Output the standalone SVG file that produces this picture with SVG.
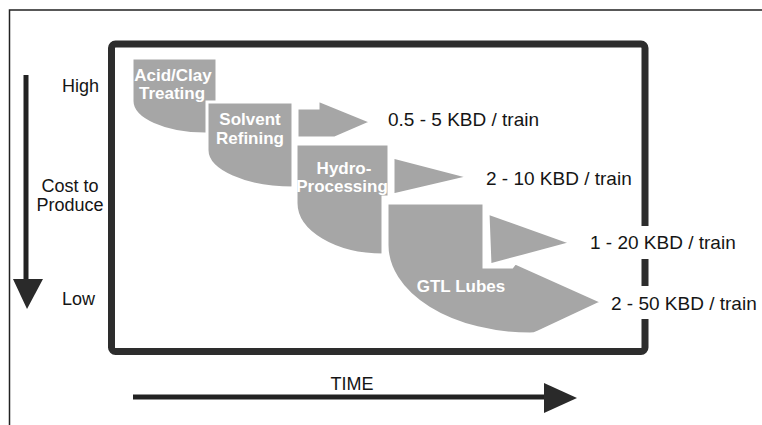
<svg xmlns="http://www.w3.org/2000/svg" width="762" height="425" viewBox="0 0 762 425">
<style>
.lbl{font-family:"Liberation Sans",Arial,sans-serif;font-size:18px;fill:#151515}
.kbd{font-family:"Liberation Sans",Arial,sans-serif;font-size:19px;fill:#151515}
.proc{fill:#a6a6a6;stroke:#ffffff;stroke-width:3;stroke-linejoin:miter}
.ptxt{font-family:"Liberation Sans",Arial,sans-serif;font-size:17px;font-weight:bold;fill:#ffffff;text-anchor:middle}
.axis{stroke:#222222;stroke-width:5;fill:none}
.head{fill:#2a2a2a}
</style>
<rect x="0" y="0" width="762" height="425" fill="#ffffff"/>
<rect id="outer-border" x="9.5" y="10" width="800" height="500" fill="none" stroke="#222222" stroke-width="1.5"/>

<g id="axis-labels">
<text class="lbl" x="62" y="92">High</text>
<text class="lbl" x="70" y="192" text-anchor="middle" font-size="17">Cost to</text>
<text class="lbl" x="70" y="211" text-anchor="middle" font-size="17">Produce</text>
<text class="lbl" x="62" y="305">Low</text>
<text class="lbl" x="352" y="390" text-anchor="middle" font-size="17">TIME</text>
</g>

<rect id="frame" x="111.5" y="44" width="533.5" height="307.5" rx="4" fill="none" stroke="#2d2d2d" stroke-width="7"/>

<g id="acid-clay">
<path class="proc" d="M132,58 H217 V134 H205 A73,33 0 0 1 132,101 Z M297,108 H318 V100 L372,122 L335,138 H297 Z"/>
<text class="ptxt" x="173" y="81">Acid/Clay</text>
<text class="ptxt" x="172" y="99">Treating</text>
</g>

<g id="solvent-refining">
<path class="proc" d="M207,102 H293 V188 A86,38 0 0 1 207,150 Z M393,157 L470,177 L393,195 Z"/>
<text class="ptxt" x="250" y="125">Solvent</text>
<text class="ptxt" x="250" y="144">Refining</text>
</g>

<g id="hydro-processing">
<path class="proc" d="M296,144 H389 V197 H383 V255 A87,52 0 0 1 296,203 Z M488,213 L572,243 L490,265 Z"/>
<text class="ptxt" x="344" y="174">Hydro-</text>
<text class="ptxt" x="342" y="192">Processing</text>
</g>

<g id="gtl-lubes">
<path class="proc" d="M387,203 H484 V267 H512 L515,263 L602,302 L538,332 Q534,334 530,334 A143,89 0 0 1 387,245 Z"/>
<text class="ptxt" x="461" y="292">GTL Lubes</text>
</g>

<g id="capacity-labels">
<text class="kbd" x="388" y="126">0.5 - 5 KBD / train</text>
<text class="kbd" x="486" y="185">2 - 10 KBD / train</text>
<rect x="585" y="226" width="175" height="33" fill="#ffffff"/>
<text class="kbd" x="590" y="249">1 - 20 KBD / train</text>
<rect x="606" y="286" width="156" height="33" fill="#ffffff"/>
<text class="kbd" x="611" y="310">2 - 50 KBD / train</text>
</g>

<g id="connectors">
<line class="axis" x1="26" y1="75" x2="26" y2="281"/>
<polygon class="head" points="13,279 43,279 27,309"/>
<line class="axis" x1="133" y1="397" x2="546" y2="397"/>
<polygon class="head" points="544,383 544,413 577,398"/>
</g>
</svg>
